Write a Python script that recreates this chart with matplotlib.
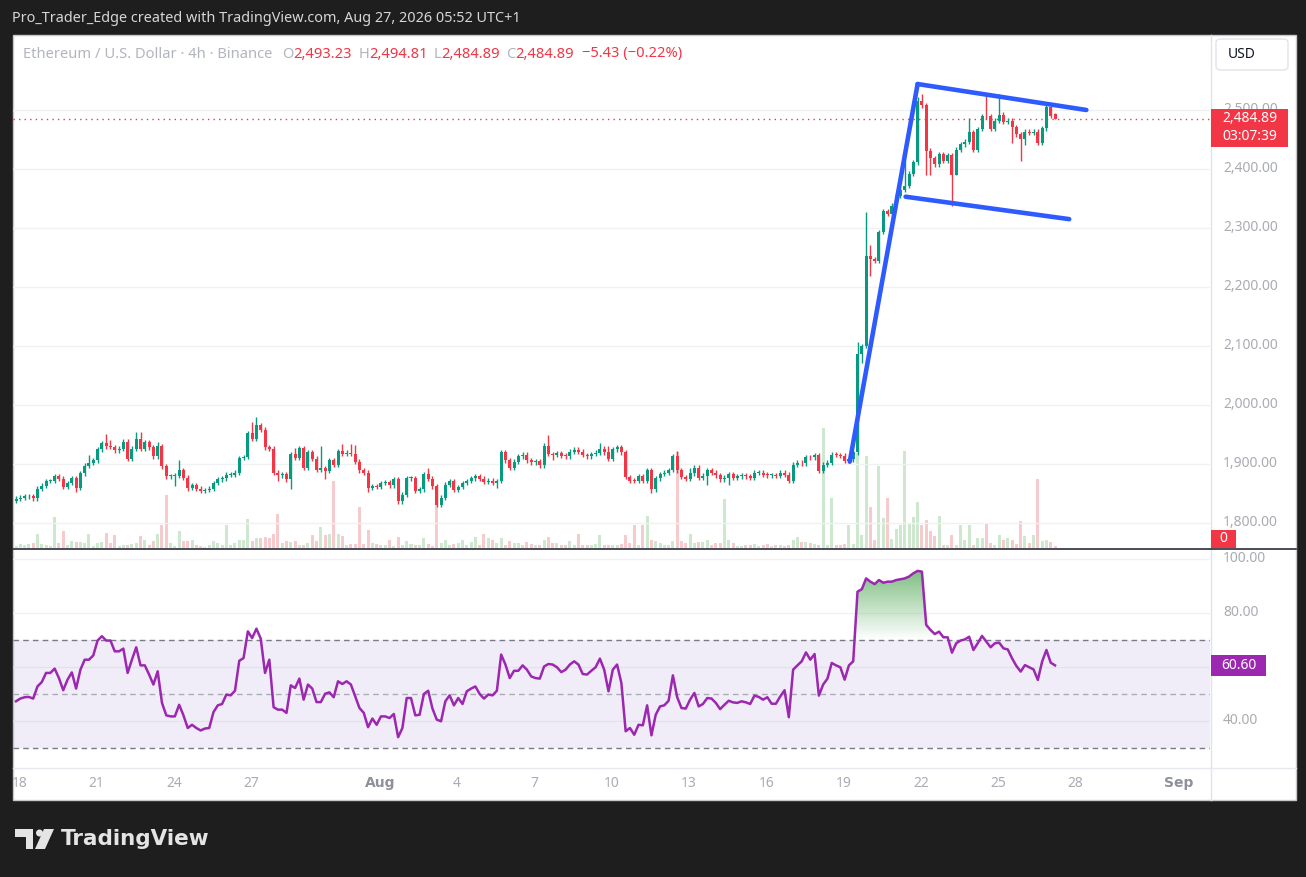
import numpy as np
import matplotlib
matplotlib.use("Agg")
import matplotlib.pyplot as plt
import matplotlib.transforms as mtransforms
from matplotlib.patches import Rectangle, Polygon, Ellipse, FancyBboxPatch, PathPatch
from matplotlib.lines import Line2D
from matplotlib.path import Path
from matplotlib.colors import LinearSegmentedColormap

# -------------------------------
# Chart data: ETH/USD 4h candles, first candle Jul 17 21:00 (UTC+1)
# -------------------------------
first_open = 1838
closes = [
    1841, 1843, 1845, 1845, 1842, 1858, 1863, 1871, 1871, 1879,
    1875, 1861, 1868, 1876, 1860, 1884, 1897, 1902, 1906, 1925,
    1935, 1930, 1929, 1923, 1926, 1938, 1909, 1926, 1943, 1926,
    1937, 1928, 1913, 1930, 1896, 1879, 1879, 1880, 1890, 1877,
    1860, 1864, 1858, 1855, 1856, 1858, 1868, 1874, 1876, 1882,
    1882, 1885, 1910, 1912, 1952, 1943, 1966, 1958, 1928, 1926,
    1885, 1881, 1883, 1874, 1917, 1910, 1927, 1894, 1920, 1909,
    1890, 1893, 1888, 1906, 1899, 1922, 1917, 1919, 1917, 1904,
    1889, 1885, 1860, 1862, 1861, 1868, 1869, 1864, 1874, 1837,
    1848, 1876, 1876, 1854, 1857, 1883, 1875, 1862, 1831, 1843,
    1865, 1871,
    1856, 1861, 1868, 1871, 1876, 1879, 1875, 1870, 1872, 1868,
    1871, 1920, 1906, 1893, 1904, 1913, 1916, 1906, 1903, 1905,
    1898, 1931, 1917, 1915, 1918, 1914, 1913, 1921, 1924, 1921,
    1915, 1913, 1917, 1919, 1926, 1920, 1909, 1925, 1928, 1920,
    1878, 1872, 1871, 1879, 1872, 1890, 1857, 1876, 1883, 1885,
    1890, 1913, 1889, 1878, 1875, 1884, 1894, 1877, 1880, 1889,
    1885, 1881, 1874, 1877, 1883, 1877, 1879, 1881, 1879, 1877,
    1885, 1885, 1882, 1881, 1881, 1880, 1885, 1882, 1872, 1899,
    1902, 1901, 1912, 1911, 1915, 1888, 1899, 1902, 1916, 1915,
    1914, 1905, 1908, 1920,
    2086, 2100,
    2253, 2247, 2244, 2293, 2329, 2324, 2338, 2355, 2365, 2371,
    2392, 2411, 2515, 2508, 2431, 2418, 2408, 2425, 2414, 2423,
    2390, 2433, 2442, 2446, 2462, 2433, 2468, 2490, 2489, 2468,
    2482, 2492, 2480, 2482, 2471, 2459, 2450, 2463, 2461, 2463,
    2444, 2469, 2505, 2490.32, 2484.89,
]

# long wicks (candle index: price)
wick_highs = {17: 1915, 21: 1950, 22: 1941, 28: 1955, 29: 1955, 33: 1937,
              38: 1907, 55: 1971, 56: 1979, 65: 1927, 71: 1930, 76: 1934,
              78: 1934, 79: 1933, 96: 1894, 124: 1949, 136: 1935, 138: 1931,
              154: 1922, 157: 1893, 196: 2107, 197: 2104, 198: 2327,
              199: 2272, 207: 2437, 210: 2522, 211: 2527, 222: 2486,
              226: 2527, 229: 2527, 240: 2512, 242: 2494.81}
wick_lows = {14: 1852, 37: 1862, 40: 1854, 61: 1871, 64: 1858, 72: 1874,
             82: 1852, 112: 1860, 125: 1906, 148: 1850, 161: 1865,
             166: 1864, 197: 2072, 199: 2219, 212: 2389, 213: 2389,
             218: 2337, 219: 2389, 232: 2444, 234: 2414, 235: 2441,
             242: 2484.89}

volumes = [
    5, 12, 10, 12, 15, 42, 12, 8, 5, 92,
    15, 50, 8, 20, 18, 18, 16, 42, 5, 15,
    18, 45, 15, 40, 5, 10, 8, 12, 15, 35,
    25, 8, 20, 42, 68, 160, 15, 5, 50, 22,
    22, 25, 8, 5, 3, 10, 22, 15, 10, 68,
    10, 15, 25, 25, 88, 20, 30, 30, 32, 30,
    42, 103, 15, 20, 18, 20, 8, 10, 15, 40,
    20, 62, 38, 42, 202, 42, 35, 10, 12, 12,
    122, 12, 55, 15, 12, 8, 10, 25, 5, 32,
    10, 22, 12, 8, 10, 30, 12, 5, 137, 15,
    25, 10,
    12, 15, 25, 10, 18, 32, 10, 42, 30, 25,
    15, 30, 10, 20, 15, 15, 10, 18, 12, 8,
    8, 25, 32, 15, 15, 8, 10, 22, 10, 42,
    10, 8, 10, 12, 38, 8, 8, 8, 10, 12,
    40, 15, 68, 8, 68, 95, 25, 20, 15, 10,
    8, 20, 288, 20, 15, 42, 15, 18, 18, 25,
    10, 15, 15, 148, 25, 15, 5, 5, 8, 8,
    12, 5, 10, 12, 5, 10, 10, 5, 8, 25,
    32, 18, 18, 15, 12, 10, 360, 8, 150, 10,
    8, 12, 68, 12, 285, 40,
    277, 122, 25, 247, 90, 150, 28, 58, 70, 292,
    72, 92, 138, 70, 85, 52, 35, 95, 8, 10,
    40, 10, 68, 25, 70, 8, 30, 30, 72, 15,
    10, 38, 25, 30, 25, 12, 82, 35, 15, 40,
    208, 22, 25, 18, 5,
]

rsi = [
    47.3, 48.3, 48.8, 48.9, 48.3, 52.8, 54.4, 57.8, 57.8, 59.4,
    55.9, 51.4, 55.3, 58.0, 52.0, 59.0, 62.7, 62.7, 64.3, 69.8,
    71.4, 69.8, 69.8, 65.8, 65.8, 66.8, 57.8, 62.7, 67.3, 60.6,
    60.6, 57.2, 53.5, 58.4, 46.7, 42.1, 41.7, 41.7, 46.0, 42.1,
    37.4, 38.6, 37.4, 36.5, 37.2, 37.4, 43.3, 45.8, 46.3, 49.8,
    49.5, 51.2, 62.3, 63.3, 73.2, 70.7, 74.2, 70.5, 57.8, 62.7,
    45.1, 44.2, 44.2, 43.0, 53.2, 52.2, 55.7, 47.9, 53.5, 52.0,
    47.0, 47.0, 50.1, 50.6, 48.8, 54.7, 53.7, 54.7, 53.5, 49.1,
    44.8, 43.0, 37.7, 40.9, 38.6, 41.7, 41.7, 41.1, 42.6, 34.0,
    37.4, 48.5, 48.5, 42.1, 42.3, 50.0, 51.2, 44.6, 40.5, 39.9,
    47.3, 49.5,
    45.8, 48.5, 46.3, 51.0, 52.0, 52.8, 50.0, 48.3, 49.8, 49.5,
    51.2, 64.6, 60.9, 55.9, 58.6, 58.6, 60.6, 59.0, 56.5, 55.9,
    55.7, 60.2, 61.1, 60.9, 59.9, 58.1, 59.0, 60.9, 62.1, 60.9,
    57.4, 57.2, 58.6, 59.9, 63.1, 59.0, 51.0, 59.0, 60.9, 54.1,
    36.2, 37.4, 34.9, 38.6, 38.4, 45.8, 34.7, 42.3, 45.4, 45.8,
    47.5, 56.9, 48.8, 44.8, 44.6, 47.9, 50.4, 45.4, 46.3, 48.5,
    48.3, 46.7, 44.4, 46.0, 47.5, 46.9, 46.7, 47.3, 46.9, 46.3,
    49.4, 48.9, 47.9, 48.8, 46.4, 46.4, 49.1, 51.4, 41.4, 59.0,
    60.6, 62.1, 65.4, 62.7, 64.8, 49.4, 53.5, 55.7, 61.5, 60.6,
    59.9, 55.3, 60.6, 62.1,
    87.9, 88.8, 92.8, 91.6, 90.7, 92.2, 91.2, 91.6, 91.6, 92.2,
    92.5, 92.8, 93.5, 94.7, 95.6, 95.3, 75.6, 73.7, 72.2, 73.1,
    71.0, 71.0, 65.3, 68.8, 69.8, 70.2, 71.2, 66.3, 68.8, 71.5,
    69.4, 67.3, 68.8, 69.0, 66.9, 66.5, 63.2, 60.4, 58.3, 60.7,
    59.9, 59.1, 55.2, 62.0, 66.3, 61.6, 60.6,
]

price_ticks = [1800, 1900, 2000, 2100, 2200, 2300, 2400, 2500]
rsi_grid = [40, 60, 80, 100]
rsi_labels = [40, 80, 100]

# days after Jul 18 for the time axis
tick_days = [0, 3, 6, 9, 14, 17, 20, 23, 26, 29, 32, 35, 38, 41, 45]
tick_labels = ["18", "21", "24", "27", "Aug", "4", "7", "10", "13", "16",
               "19", "22", "25", "28", "Sep"]

# bull flag drawn on the chart (candle index, price)
pole_x, pole_y = [194.2, 210.0], [1904, 2544]
flag_top_x, flag_top_y = [210.0, 249.3], [2544, 2500]
flag_bot_x, flag_bot_y = [207.2, 245.3], [2353, 2315]

last_open, last_high, last_low, last_close = 2493.23, 2494.81, 2484.89, 2484.89
change, change_pct = -5.43, -0.22
countdown = "03:07:39"

# -------------------------------
# Styling
# -------------------------------
W, H = 1306, 877
BG = "#1e1e1e"
UP, DOWN = "#089981", "#f23645"
VOL_UP, VOL_DOWN = "#cde8cf", "#f7cacd"
GRID = "#f0f1f3"
SCALE_TXT = "#a9acb3"
RSI_C = "#9c27b0"
BLUE = "#2e5bff"
min_wick = 4.0

plt.rcParams["font.family"] = ["Noto Sans", "DejaVu Sans"]

fig = plt.figure(figsize=(W / 100, H / 100), dpi=100)
fig.patch.set_facecolor(BG)


def rect(x0, y0, x1, y1):
    return [x0 / W, 1 - y1 / H, (x1 - x0) / W, (y1 - y0) / H]


def fx(px):
    return px / W


def fy(py):
    return 1 - py / H


def fpts(pts):
    return [(px / W, 1 - py / H) for px, py in pts]


def fig_line(x0, y0, x1, y1, color, lw=1.0, z=4):
    fig.add_artist(Line2D([fx(x0), fx(x1)], [fy(y0), fy(y1)],
                          transform=fig.transFigure, color=color, lw=lw, zorder=z))


# white panel
fig.add_artist(Rectangle((fx(13), fy(800)), (1296 - 13) / W, (800 - 35) / H,
                         transform=fig.transFigure, facecolor="white",
                         edgecolor="#c8c8c8", lw=1, zorder=-1))

n = len(closes)
x = np.arange(n)
c = np.array(closes, dtype=float)
o = np.concatenate([[first_open], c[:-1]])
o[-1] = last_open
top = np.maximum(o, c)
bot = np.minimum(o, c)
hi = np.array([max(wick_highs.get(i, top[i] + min_wick), top[i]) for i in range(n)])
lo = np.array([min(wick_lows.get(i, bot[i] - min_wick), bot[i]) for i in range(n)])
up = c >= o
cols = np.where(up, UP, DOWN)
vcols = np.where(up, VOL_UP, VOL_DOWN)

xlim = (-0.7, 278.1)

# -------------------------------
# Price pane + volume
# -------------------------------
ax_vol = fig.add_axes(rect(13, 35, 1210, 548), label="vol", zorder=1)
ax_vol.set_facecolor("none")
ax_vol.bar(x, volumes, width=0.7, color=vcols, lw=0)
ax_vol.set_xlim(*xlim)
ax_vol.set_ylim(0, 1539)
ax_vol.set_axis_off()

ax = fig.add_axes(rect(13, 35, 1210, 548), label="price", zorder=2)
ax.set_facecolor("none")
ax.set_xlim(*xlim)
ax.set_ylim(1757.6, 2627.1)
ax.set_axis_off()
for p in price_ticks:
    ax.axhline(p, color=GRID, lw=1, zorder=0)

ax.vlines(x, lo, hi, colors=cols, lw=1, zorder=2)
ax.bar(x, np.maximum(top - bot, 1.5), bottom=bot, width=0.7, color=cols, lw=0, zorder=3)
ax.axhline(last_close, color=DOWN, lw=1, ls=(0, (1, 3)), zorder=1)

for px_, py_ in [(pole_x, pole_y), (flag_top_x, flag_top_y), (flag_bot_x, flag_bot_y)]:
    ax.plot(px_, py_, color=BLUE, lw=3.3, solid_capstyle="round", zorder=5)

# legend line
LEG_GRAY = "#b2b5be"
leg = [("Ethereum / U.S. Dollar · 4h · Binance", LEG_GRAY, 0),
       ("O", LEG_GRAY, 7), (f"{last_open:,.2f}", DOWN, 0),
       ("H", LEG_GRAY, 4.5), (f"{last_high:,.2f}", DOWN, 0),
       ("L", LEG_GRAY, 4.5), (f"{last_low:,.2f}", DOWN, 0),
       ("C", LEG_GRAY, 4.5), (f"{last_close:,.2f}", DOWN, 0),
       (f"\u2212{abs(change):.2f} (\u2212{abs(change_pct):.2f}%)", DOWN, 5.5)]
prev = fig.text(fx(23), fy(54), leg[0][0], color=leg[0][1], fontsize=10.6,
                va="center", ha="left", zorder=6)
for s, col, gap in leg[1:]:
    prev = ax.annotate(s, xy=(1, 0), xycoords=prev, xytext=(gap, 0),
                       textcoords="offset points", va="bottom", ha="left",
                       color=col, fontsize=10.6, annotation_clip=False)

# last price position in pixels (from the top)
y_last = H - ax.transData.transform((0, last_close))[1]

# price scale labels (the one under the price tag only peeks out above it)
ptrans = mtransforms.blended_transform_factory(fig.transFigure, ax.transData)
above_tag = mtransforms.Bbox.from_extents(0, H - (y_last - 10), W, H)
for p in price_ticks:
    t = fig.text(fx(1223), p, f"{p:,.2f}", transform=ptrans, color=SCALE_TXT,
                 fontsize=10, va="center", ha="left", zorder=3)
    y_p = H - ax.transData.transform((0, p))[1]
    if abs(y_p - y_last) < 20:
        t.set_clip_box(above_tag)
        t.set_clip_on(True)

# last price tag
fig.add_artist(Rectangle((fx(1211), fy(y_last + 28)), 77 / W, 38 / H,
                         transform=fig.transFigure, facecolor=DOWN,
                         edgecolor="none", zorder=10))
fig.text(fx(1250), fy(y_last - 0.5), f"{last_close:,.2f}", color="white",
         fontsize=10, fontweight="bold", ha="center", va="center", zorder=11)
fig.text(fx(1250), fy(y_last + 17.5), countdown, color="white",
         fontsize=10, ha="center", va="center", zorder=11)

# volume tag
fig.add_artist(Rectangle((fx(1211), fy(548)), 25 / W, 18 / H,
                         transform=fig.transFigure, facecolor=DOWN,
                         edgecolor="none", zorder=10))
fig.text(fx(1223.5), fy(539), "0", color="white", fontsize=10,
         fontweight="bold", ha="center", va="center", zorder=11)

# currency box
fig.add_artist(FancyBboxPatch((fx(1216), fy(70)), 72 / W, 31 / H,
                              boxstyle="round,pad=0,rounding_size=0.004",
                              transform=fig.transFigure, facecolor="white",
                              edgecolor="#e0e3eb", lw=1, zorder=5))
fig.text(fx(1228), fy(54.5), "USD", color="#131722", fontsize=10,
         ha="left", va="center", zorder=6)

# -------------------------------
# RSI pane
# -------------------------------
ax_r = fig.add_axes(rect(13, 550, 1210, 767), label="rsi", zorder=2)
ax_r.set_facecolor("none")
ax_r.set_axis_off()
for g in rsi_grid:
    ax_r.axhline(g, color=GRID, lw=1, zorder=0)
ax_r.axhspan(30, 70, color="#7e57c2", alpha=0.1, lw=0, zorder=0)
ax_r.axhline(70, color="#787b86", lw=1, ls=(0, (4, 3)), zorder=1)
ax_r.axhline(30, color="#787b86", lw=1, ls=(0, (4, 3)), zorder=1)
ax_r.axhline(50, color="#a9acb3", lw=1, ls=(0, (4, 3)), zorder=1)

r = np.array(rsi)
band = ax_r.fill_between(x, r, 70, where=r > 70, interpolate=True,
                         facecolor="none", lw=0)
clip = PathPatch(Path.make_compound_path(*band.get_paths()),
                 transform=ax_r.transData, facecolor="none", edgecolor="none")
ax_r.add_patch(clip)
green_fade = LinearSegmentedColormap.from_list(
    "ob", [(0.26, 0.63, 0.28, 0.0), (0.26, 0.63, 0.28, 0.8)])
img = ax_r.imshow(np.linspace(0, 1, 256).reshape(-1, 1), extent=[xlim[0], xlim[1], 70, 100],
                  origin="lower", cmap=green_fade, aspect="auto", zorder=1)
img.set_clip_path(clip)

ax_r.plot(x, r, color=RSI_C, lw=1.8, zorder=3)
ax_r.set_xlim(*xlim)
ax_r.set_ylim(22.96, 103.33)

rtrans = mtransforms.blended_transform_factory(fig.transFigure, ax_r.transData)
for v in rsi_labels:
    fig.text(fx(1223), v, f"{v:.2f}", transform=rtrans, color=SCALE_TXT,
             fontsize=10, va="center", ha="left", zorder=3)
y_rsi = H - ax_r.transData.transform((0, rsi[-1]))[1]
fig.add_artist(Rectangle((fx(1211), fy(y_rsi + 10.5)), 55 / W, 21 / H,
                         transform=fig.transFigure, facecolor=RSI_C,
                         edgecolor="none", zorder=10))
fig.text(fx(1238.5), fy(y_rsi), f"{rsi[-1]:.2f}", color="white", fontsize=10,
         fontweight="bold", ha="center", va="center", zorder=11)

# -------------------------------
# Time axis
# -------------------------------
ax_t = fig.add_axes(rect(13, 767, 1210, 800), label="time", zorder=2)
ax_t.set_axis_off()
ax_t.set_xlim(*xlim)
ax_t.set_ylim(0, 1)
for d, lab in zip(tick_days, tick_labels):
    month = not lab.isdigit()
    ax_t.text(0.75 + 6 * d, 0.5, lab, ha="center", va="center", fontsize=10,
              color="#8e9199" if month else SCALE_TXT,
              family=["DejaVu Sans"] if month else None,
              fontweight="bold" if month else "normal", clip_on=True)

# separators
fig_line(1210.5, 35, 1210.5, 800, "#e0e3eb")
fig_line(13, 549, 1296, 549, "#2a2e39", lw=1.2, z=6)
fig_line(13, 767.5, 1296, 767.5, "#e6e8ee")

# -------------------------------
# Header and footer
# -------------------------------
fig.text(fx(12), fy(19), "Pro_Trader_Edge created with TradingView.com, Aug 27, 2026 05:52 UTC+1",
         color="#d6d6d6", fontsize=10.4, ha="left", va="center")

LOGO = "#e4e4e4"
fig.add_artist(Polygon(fpts([(15, 829), (33, 829), (33, 849), (26, 849), (26, 837), (15, 837)]),
                       closed=True, transform=fig.transFigure, facecolor=LOGO, edgecolor="none"))
fig.add_artist(Ellipse((fx(39.5), fy(833)), 7 / W, 7 / H, transform=fig.transFigure,
                       facecolor=LOGO, edgecolor="none"))
fig.add_artist(Polygon(fpts([(44, 829), (54, 829), (45, 849), (35, 849)]),
                       closed=True, transform=fig.transFigure, facecolor=LOGO, edgecolor="none"))
fig.text(fx(61), fy(839), "TradingView", color=LOGO, fontsize=15.5,
         family=["DejaVu Sans"], fontweight="bold", ha="left", va="center")

fig.savefig("out.png", dpi=100, facecolor=BG)
